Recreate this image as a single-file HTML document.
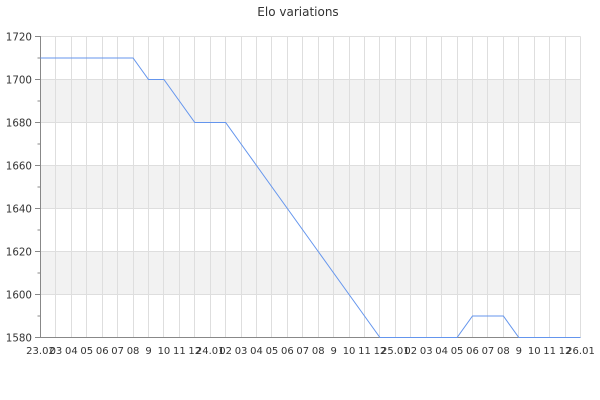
<!DOCTYPE html>
<html><head><meta charset="utf-8"><style>
html,body{margin:0;padding:0;background:#fff;}
svg{display:block;}
text{font-family:"DejaVu Sans","Liberation Sans",sans-serif;fill:#333;}
</style></head><body>
<svg width="600" height="400" viewBox="0 0 600 400" xmlns="http://www.w3.org/2000/svg">
<text x="298" y="16" font-size="12" text-anchor="middle">Elo variations</text>
<g fill="#f2f2f2">
<rect x="40.5" y="79.5" width="540" height="43"/>
<rect x="40.5" y="165.5" width="540" height="43"/>
<rect x="40.5" y="251.5" width="540" height="43"/>
</g>
<g stroke="#dedede" stroke-width="1" id="vg"></g>
<g stroke="#dedede" stroke-width="1">
<line x1="40.5" y1="36.5" x2="580.5" y2="36.5"/>
<line x1="40.5" y1="79.5" x2="580.5" y2="79.5"/>
<line x1="40.5" y1="122.5" x2="580.5" y2="122.5"/>
<line x1="40.5" y1="165.5" x2="580.5" y2="165.5"/>
<line x1="40.5" y1="208.5" x2="580.5" y2="208.5"/>
<line x1="40.5" y1="251.5" x2="580.5" y2="251.5"/>
<line x1="40.5" y1="294.5" x2="580.5" y2="294.5"/>
</g>
<g stroke="#888" stroke-width="1">
<line x1="40.5" y1="36" x2="40.5" y2="338"/>
<line x1="40" y1="337.5" x2="580.5" y2="337.5"/>
<line x1="35" y1="36.5" x2="40.5" y2="36.5"/>
<line x1="35" y1="79.5" x2="40.5" y2="79.5"/>
<line x1="35" y1="122.5" x2="40.5" y2="122.5"/>
<line x1="35" y1="165.5" x2="40.5" y2="165.5"/>
<line x1="35" y1="208.5" x2="40.5" y2="208.5"/>
<line x1="35" y1="251.5" x2="40.5" y2="251.5"/>
<line x1="35" y1="294.5" x2="40.5" y2="294.5"/>
<line x1="35" y1="337.5" x2="40.5" y2="337.5"/>
<line x1="37.5" y1="58" x2="40.5" y2="58"/>
<line x1="37.5" y1="101" x2="40.5" y2="101"/>
<line x1="37.5" y1="144" x2="40.5" y2="144"/>
<line x1="37.5" y1="187" x2="40.5" y2="187"/>
<line x1="37.5" y1="230" x2="40.5" y2="230"/>
<line x1="37.5" y1="273" x2="40.5" y2="273"/>
<line x1="37.5" y1="316" x2="40.5" y2="316"/>
</g>
<g font-size="10.3" text-anchor="end">
<text x="32" y="40.5">1720</text>
<text x="32" y="83.5">1700</text>
<text x="32" y="126.5">1680</text>
<text x="32" y="169.5">1660</text>
<text x="32" y="212.5">1640</text>
<text x="32" y="255.5">1620</text>
<text x="32" y="298.5">1600</text>
<text x="32" y="341.5">1580</text>
</g>
<g font-size="10" text-anchor="middle" id="xl"></g>
<polyline fill="none" stroke="#6495ed" stroke-width="1" id="data" points=""/>
</svg>
<script>
(function(){
var ns="http://www.w3.org/2000/svg";
var x0=40.5, s=540/35;
function X(i){return x0+i*s;}
function Y(v){return 36.5+(1720-v)*301/140;}
var vg=document.getElementById('vg');
for(var i=1;i<=35;i++){
  var xx=Math.round(X(i)-0.5)+0.5;
  var l=document.createElementNS(ns,'line');
  l.setAttribute('x1',xx);l.setAttribute('x2',xx);
  l.setAttribute('y1',36.5);l.setAttribute('y2',337.5);
  vg.appendChild(l);
}
var labels=["23.02","03","04","05","06","07","08","9","10","11","12",
"24.01","02","03","04","05","06","07","08","9","10","11","12",
"25.01","02","03","04","05","06","07","08","9","10","11","12","26.01"];
var xl=document.getElementById('xl');
for(var i=0;i<labels.length;i++){
  var t=document.createElementNS(ns,'text');
  t.setAttribute('x',X(i).toFixed(2));t.setAttribute('y',354);
  t.textContent=labels[i];xl.appendChild(t);
}
var vals=[1710,1710,1710,1710,1710,1710,1710,1700,1700,1690,1680,1680,1680,
1670,1660,1650,1640,1630,1620,1610,1600,1590,1580,1580,1580,1580,1580,1580,
1590,1590,1590,1580,1580,1580,1580,1580];
var pts=[];
for(var i=0;i<vals.length;i++){pts.push(X(i).toFixed(2)+','+Y(vals[i]).toFixed(2));}
document.getElementById('data').setAttribute('points',pts.join(' '));
})();
</script>
</body></html>
